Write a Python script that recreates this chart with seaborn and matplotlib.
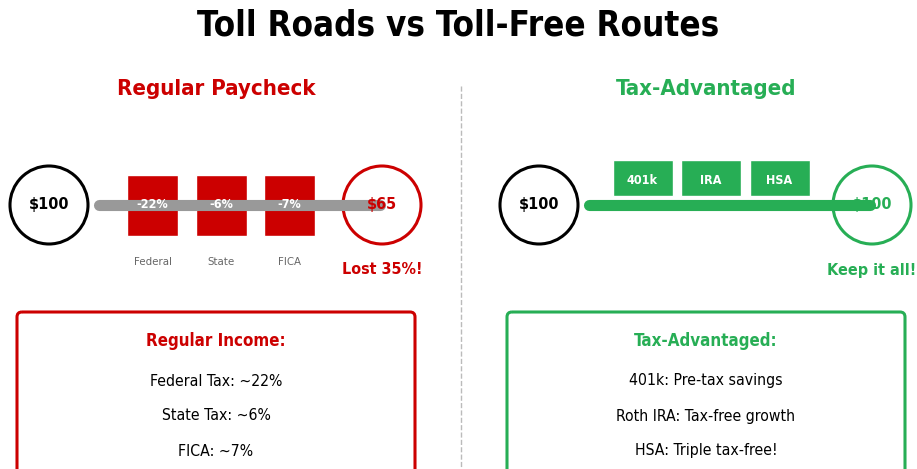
import matplotlib
matplotlib.use("Agg")
import matplotlib.pyplot as plt
import seaborn as sns
from matplotlib.patches import Circle, FancyBboxPatch

sns.set_theme(style="white")
plt.rcParams['font.family'] = ['DejaVu Sans']

# ---- data ----
title = "Toll Roads vs Toll-Free Routes"
left_title = "Regular Paycheck"
right_title = "Tax-Advantaged"
tax_labels = ["-22%", "-6%", "-7%"]
tax_names = ["Federal", "State", "FICA"]
tax_rates = [22, 6, 7]
shelters = ["401k", "IRA", "HSA"]
start_amount = "$100"
left_end = "$65"
right_end = "$100"
left_note = "Lost 35%!"
right_note = "Keep it all!"
left_box_title = "Regular Income:"
left_box_lines = ["Federal Tax: ~22%", "State Tax: ~6%", "FICA: ~7%"]
right_box_title = "Tax-Advantaged:"
right_box_lines = ["401k: Pre-tax savings", "Roth IRA: Tax-free growth", "HSA: Triple tax-free!"]

RED = "#cc0000"
GREEN = "#27ae55"
GRAY = "#999999"

W, H = 917, 469
fig = plt.figure(figsize=(W / 100, H / 100), dpi=100)
ax = fig.add_axes([0, 0, 1, 1])
ax.set_xlim(0, W)
ax.set_ylim(H, 0)
ax.axis("off")

cond = dict(fontstretch="condensed")

fig.text(0.5, 1 - 26 / H, title, ha="center", va="center", fontsize=25,
         fontweight="bold", color="black", **cond)

# divider
ax.plot([461, 461], [86, H], ls="--", color="#bbbbbb", lw=1)

def panel(x0, ttl, color, line_color, end_text, note, box_title, box_lines, end_on_top):
    ax.text(x0 + 216, 89, ttl, ha="center", va="center", fontsize=15.9,
            fontweight="bold", color=color, **cond)
    # start circle
    ax.add_patch(Circle((x0 + 49, 205), 39, fill=False, ec="black", lw=2.2, zorder=3))
    ax.text(x0 + 49, 205, start_amount, ha="center", va="center", fontsize=11.6,
            fontweight="bold", color="black", zorder=6, **cond)
    # end circle
    ax.add_patch(Circle((x0 + 382, 205), 39, fill=False, ec=color, lw=2.2, zorder=3))
    ax.text(x0 + 382, 205, end_text, ha="center", va="center", fontsize=11.6,
            fontweight="bold", color=color, zorder=6 if end_on_top else 3.5, **cond)
    # road
    ax.plot([x0 + 99, x0 + 380], [205, 205], color=line_color, lw=8,
            solid_capstyle="round", zorder=5)
    ax.text(x0 + 382, 270, note, ha="center", va="center", fontsize=11.5,
            fontweight="bold", color=color, **cond)
    # box
    ax.add_patch(FancyBboxPatch((x0 + 17, 312), 398, 200,
                                boxstyle="round,pad=0,rounding_size=5",
                                fill=False, ec=color, lw=2.2, zorder=2))
    ax.text(x0 + 216, 341, box_title, ha="center", va="center", fontsize=12.2,
            fontweight="bold", color=color, **cond)
    for i, line in enumerate(box_lines):
        ax.text(x0 + 216, 381 + 35 * i, line, ha="center", va="center",
                fontsize=11.3, color="black", **cond)

panel(0, left_title, RED, GRAY, left_end, left_note, left_box_title, left_box_lines, True)
panel(490, right_title, GREEN, GREEN, right_end, right_note, right_box_title, right_box_lines, False)

# tax toll booths (left)
tax_x = [152.5 + 68.5 * i for i in range(len(tax_labels))]
ax.bar(tax_x, [61] * len(tax_x), bottom=175, width=51, color=RED, zorder=4)
for x, lab, name in zip(tax_x, tax_labels, tax_names):
    ax.text(x, 205, lab, ha="center", va="center", fontsize=9, fontweight="bold",
            color="white", zorder=7, **cond)
    ax.text(x, 262, name, ha="center", va="center", fontsize=8.2, color="#666666", **cond)

# shelters (right)
sh_x = [642.5 + 68.5 * i for i in range(len(shelters))]
ax.bar(sh_x, [36] * len(sh_x), bottom=160, width=60, color=GREEN, zorder=4)
for x, lab in zip(sh_x, shelters):
    ax.text(x, 180, lab, ha="center", va="center", fontsize=9, fontweight="bold",
            color="white", zorder=7, **cond)

fig.savefig("out.png", dpi=100)
